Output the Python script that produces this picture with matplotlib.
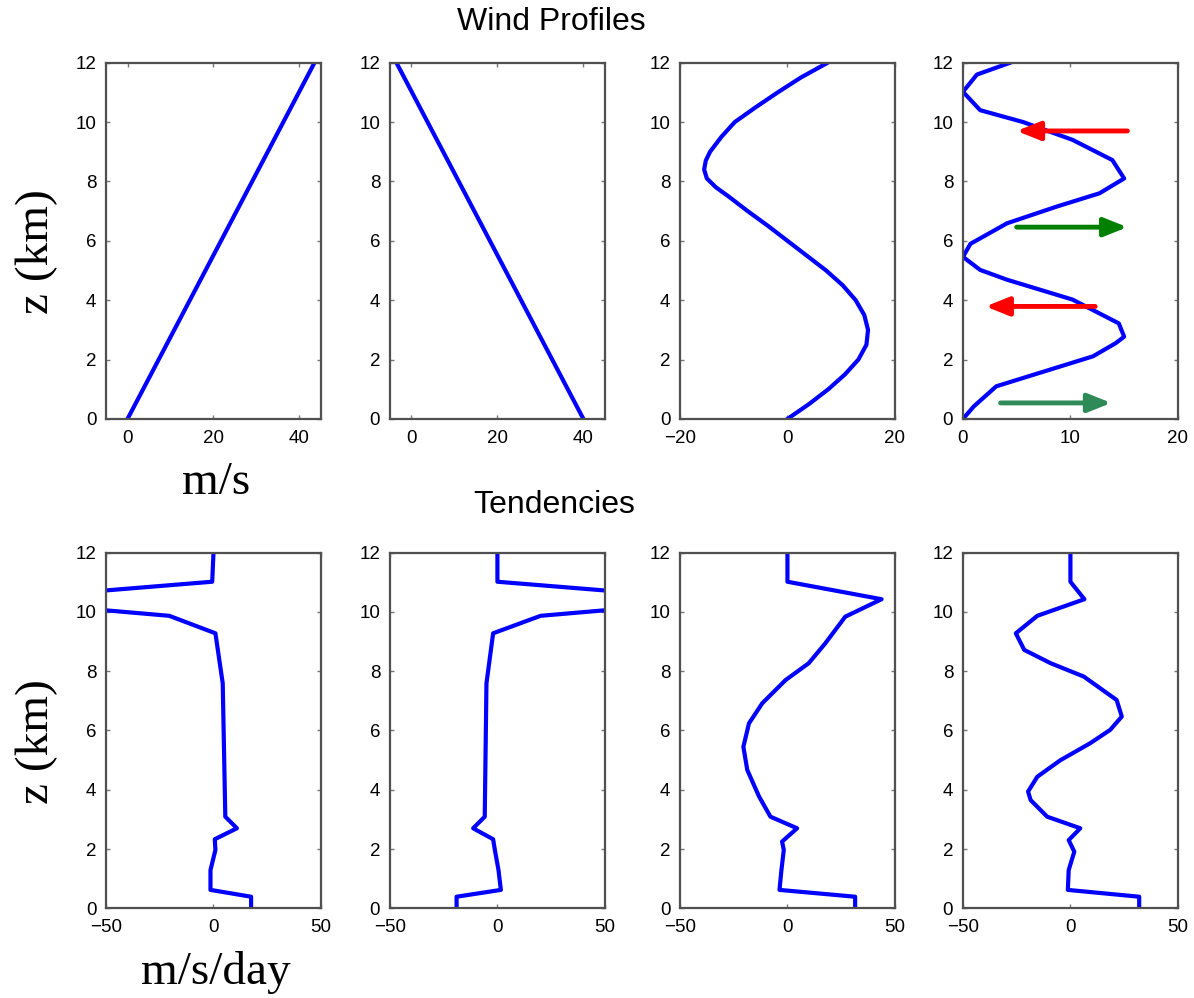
import matplotlib
matplotlib.use("Agg")
import matplotlib.pyplot as plt

# 风廓线与倾向, 高度单位 km
plt.rcParams['font.family'] = ['Liberation Sans', 'DejaVu Sans']
plt.rcParams['axes.unicode_minus'] = True

# 上排: 风廓线 (m/s)
z_lin = [0, 12]
u_shear_pos = [0, 43.5]
u_shear_neg = [40, -3.5]

z_wave = [0, 0.5, 1, 1.5, 2, 2.5, 3, 3.5, 4, 4.5, 5, 5.5, 6, 6.5, 7, 7.5, 7.8,
          8.1, 8.4, 8.7, 9, 9.5, 10, 10.5, 11, 11.5, 12]
u_wave = [0, 4.0, 7.6, 10.7, 13.2, 14.7, 15.0, 14.3, 12.7, 10.3, 7.2, 3.6, 0.0,
          -3.6, -7.4, -11.0, -13.3, -15.0, -15.5, -15.2, -14.4, -12.3, -9.8,
          -5.9, -1.8, 2.5, 7.5]

z_abs = [0, 0.42, 1.1, 2.11, 2.55, 2.77, 3.22, 4.02, 4.69, 5.02, 5.46, 5.9, 6.59,
         7.15, 7.6, 8.1, 8.72, 9.4, 10.0, 10.4, 11.02, 11.6, 12]
u_abs = [0, 1.0, 3.1, 12.1, 14.2, 15.0, 14.5, 10.2, 4.1, 1.6, 0, 0.7, 4.1,
         8.7, 12.7, 15.0, 13.9, 10.2, 5.6, 1.6, 0, 1.3, 4.4]

# 第四幅图上的箭头
arrow_z = [9.7, 6.46, 3.79, 0.54]
arrow_from = [15.3, 5.0, 12.3, 3.5]
arrow_to = [5.0, 15.3, 2.1, 13.8]
arrow_colors = ['#ff0000', '#008000', '#ff0000', '#2e8b57']

# 下排: 倾向 (m/s/day)
z_t12 = [0, 0.39, 0.62, 1.29, 1.97, 2.33, 2.70, 3.09, 7.59, 9.28, 9.87, 10.4, 11.02, 12]
t_shear_pos = [17.5, 17.5, -1.4, -1.4, 0.9, 0.6, 10.9, 5.5, 4.3, 0.9, -20.6, -105, -0.6, 0]
t_shear_neg = [-19, -19, 1.6, 0.5, -1.2, -2.0, -11.3, -5.9, -5.1, -2.0, 20.1, 105, 0, 0]

z_t3 = [0, 0.39, 0.62, 1.29, 1.97, 2.25, 2.70, 3.09, 3.77, 4.67, 5.45, 6.24, 6.92,
        7.70, 8.27, 8.94, 9.84, 10.43, 11.02, 12]
t_wave = [31.5, 31.5, -3.7, -2.8, -1.7, -2.5, 4.5, -7.9, -13.2, -18.7, -20.5, -17.9,
          -11.7, -0.9, 9.9, 17.6, 26.9, 43.8, 0, 0]

z_t4 = [0, 0.39, 0.62, 1.29, 1.91, 2.30, 2.70, 3.09, 3.65, 3.94, 4.44, 5.0, 5.57,
        6.02, 6.47, 7.03, 7.82, 8.27, 8.72, 9.28, 9.87, 10.43, 11.02, 12]
t_abs = [32, 32, -1.2, -0.8, 1.8, -0.8, 4.6, -10.8, -18.5, -19.7, -15.4, -4.6, 9.2,
         18.5, 23.9, 21.5, 6.2, -9.2, -21.5, -25.4, -15.4, 6.5, 0, 0]

top_data = [(u_shear_pos, z_lin), (u_shear_neg, z_lin), (u_wave, z_wave), (u_abs, z_abs)]
bot_data = [(t_shear_pos, z_t12), (t_shear_neg, z_t12), (t_wave, z_t3), (t_abs, z_t4)]
top_xlim = [(-5, 45), (-5, 45), (-20, 20), (0, 20)]
top_xticks = [[0, 20, 40], [0, 20, 40], [-20, 0, 20], [0, 10, 20]]
z_ticks = [0, 2, 4, 6, 8, 10, 12]

fig = plt.figure(figsize=(11.94, 9.98), dpi=100)
lefts = [0.0888, 0.3266, 0.5695, 0.8065]
width = 0.180


def style_axes(ax):
    for sp in ax.spines.values():
        sp.set_color('#505050')
        sp.set_linewidth(1.6)
    ax.tick_params(direction='in', top=True, right=True, length=3,
                   width=1, color='#777777', labelsize=13.5)
    ax.tick_params(axis='x', pad=8)
    ax.tick_params(axis='y', pad=7)
    ax.set_ylim(0, 12)
    ax.set_yticks(z_ticks)


top_axes = []
for i in range(4):
    ax = fig.add_axes([lefts[i], 0.5802, width, 0.357])
    u, z = top_data[i]
    ax.plot(u, z, color='#0000ff', lw=3)
    ax.set_xlim(*top_xlim[i])
    ax.set_xticks(top_xticks[i])
    style_axes(ax)
    top_axes.append(ax)

for i in range(4):
    ax = fig.add_axes([lefts[i], 0.0899, width, 0.3563])
    u, z = bot_data[i]
    ax.plot(u, z, color='#0000ff', lw=3)
    ax.set_xlim(-50, 50)
    ax.set_xticks([-50, 0, 50])
    style_axes(ax)

# 箭头
ax4 = top_axes[3]
for zz, x0, x1, col in zip(arrow_z, arrow_from, arrow_to, arrow_colors):
    ax4.annotate('', xy=(x1, zz), xytext=(x0, zz),
                 arrowprops=dict(arrowstyle='-|>,head_length=0.7,head_width=0.28',
                                 color=col, lw=3.5, mutation_scale=20,
                                 shrinkA=0, shrinkB=0))

fig.text(0.4615, 0.978, 'Wind Profiles', ha='center', va='center', fontsize=23)
fig.text(0.464, 0.494, 'Tendencies', ha='center', va='center', fontsize=23)

serif = ['Liberation Serif', 'DejaVu Serif']
fig.text(0.031, 0.7475, 'z (km)', rotation=90, ha='center', va='center',
         fontsize=34, family=serif)
fig.text(0.031, 0.257, 'z (km)', rotation=90, ha='center', va='center',
         fontsize=34, family=serif)
fig.text(0.181, 0.516, 'm/s', ha='center', va='center', fontsize=34, family=serif)
fig.text(0.181, 0.026, 'm/s/day', ha='center', va='center', fontsize=34, family=serif)

fig.savefig('out.png', dpi=100)
